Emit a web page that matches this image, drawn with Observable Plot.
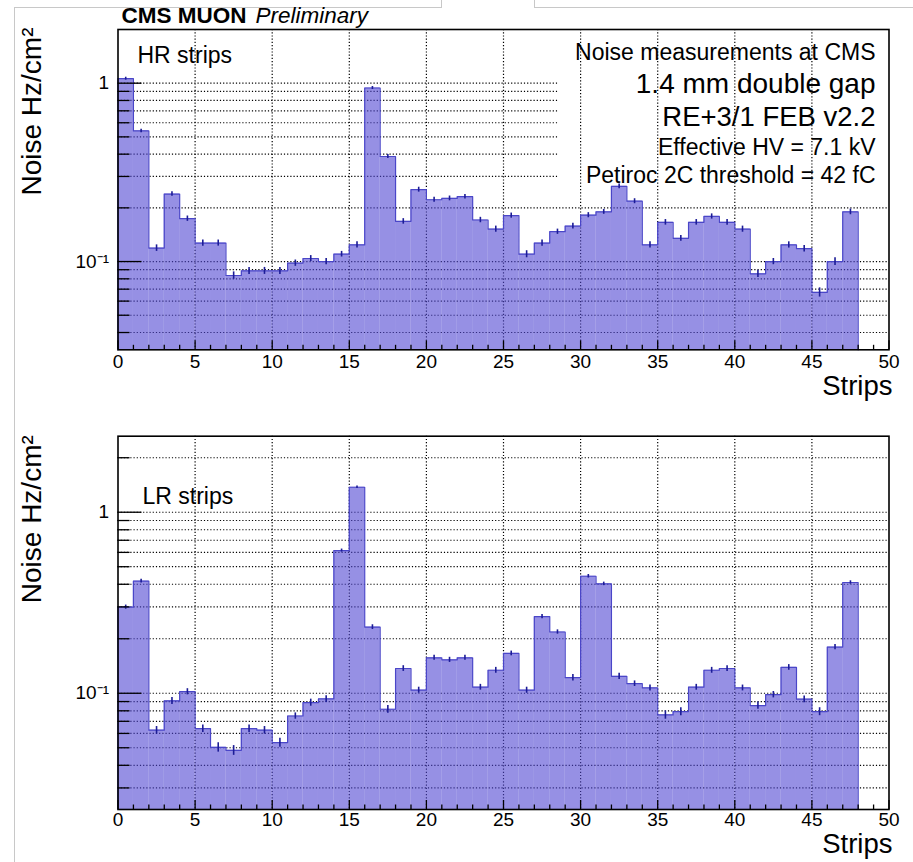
<!DOCTYPE html>
<html>
<head>
<meta charset="utf-8">
<script src="https://cdn.jsdelivr.net/npm/d3@7"></script>
<script src="https://cdn.jsdelivr.net/npm/@observablehq/plot@0.6"></script>
<style>
  body { margin: 0; background: #fff; }
  #page { position: relative; width: 913px; height: 862px; overflow: hidden; background: #fff;
          font-family: "Liberation Sans", Arial, Helvetica, sans-serif; }
  .panel { position: absolute; left: 0; }
  .edge { position: absolute; border-color: #c8c8c8; border-style: solid; border-width: 0; pointer-events: none; }
</style>
</head>
<body>
<div id="page">
  <div class="edge" style="left:14px;top:7px;width:427px;height:900px;border-top-width:1px;border-left-width:1px;"></div>
  <div class="edge" style="left:441px;top:-1px;width:0;height:8px;border-left-width:1px;"></div>
  <div class="edge" style="left:534px;top:-1px;width:400px;height:8px;border-left-width:1px;border-bottom-width:1px;"></div>
  <div id="top" class="panel" style="top:0"></div>
  <div id="bottom" class="panel" style="top:420px"></div>
</div>
<script>
// ---------------- data ----------------
const strips = d3.range(48);            // strip bins 0..47 (each bin is [s, s+1))
const hrNoise = [1.06, 0.54, 0.119, 0.239, 0.174, 0.127, 0.127, 0.0835, 0.0887, 0.0887,
                 0.0887, 0.098, 0.104, 0.100, 0.110, 0.124, 0.94, 0.388, 0.168, 0.253,
                 0.222, 0.226, 0.231, 0.171, 0.152, 0.181, 0.110, 0.127, 0.147, 0.158,
                 0.182, 0.190, 0.264, 0.218, 0.124, 0.166, 0.135, 0.166, 0.179, 0.166,
                 0.152, 0.0853, 0.100, 0.124, 0.118, 0.0672, 0.100, 0.190];
const hrErr = [0.02, 0.012, 0.005, 0.007, 0.006, 0.005, 0.005, 0.004, 0.004, 0.004,
               0.004, 0.004, 0.004, 0.004, 0.004, 0.005, 0.018, 0.010, 0.006, 0.008,
               0.007, 0.007, 0.007, 0.006, 0.006, 0.006, 0.005, 0.005, 0.005, 0.006,
               0.006, 0.006, 0.008, 0.007, 0.005, 0.006, 0.005, 0.006, 0.006, 0.006,
               0.006, 0.004, 0.004, 0.005, 0.005, 0.004, 0.005, 0.007];
const lrNoise = [0.299, 0.416, 0.0625, 0.0908, 0.102, 0.0638, 0.0503, 0.0484, 0.0638, 0.0625,
                 0.0534, 0.0749, 0.0888, 0.093, 0.614, 1.374, 0.232, 0.0816, 0.137, 0.104,
                 0.157, 0.153, 0.157, 0.108, 0.134, 0.166, 0.104, 0.265, 0.218, 0.122,
                 0.443, 0.402, 0.124, 0.113, 0.107, 0.0759, 0.0792, 0.108, 0.134, 0.137,
                 0.107, 0.0855, 0.0983, 0.139, 0.0927, 0.0792, 0.180, 0.409];
const lrErr = [0.008, 0.010, 0.003, 0.004, 0.004, 0.003, 0.003, 0.003, 0.003, 0.003,
               0.003, 0.003, 0.004, 0.004, 0.012, 0.020, 0.007, 0.004, 0.005, 0.004,
               0.005, 0.005, 0.005, 0.004, 0.005, 0.005, 0.004, 0.007, 0.006, 0.005,
               0.010, 0.009, 0.005, 0.004, 0.004, 0.004, 0.004, 0.004, 0.005, 0.005,
               0.004, 0.004, 0.004, 0.005, 0.004, 0.004, 0.006, 0.009];
const xMajorTicks = [0, 5, 10, 15, 20, 25, 30, 35, 40, 45, 50];
const xMinorTicks = d3.range(0, 51);
const yMajorTicks = [0.1, 1];
const yMinorTicks = [0.02, 0.03, 0.04, 0.05, 0.06, 0.07, 0.08, 0.09,
                     0.1, 0.2, 0.3, 0.4, 0.5, 0.6, 0.7, 0.8, 0.9, 1, 2, 3];
const yTickLabels = {0.1: "10\u207B\u00B9", 1: "1"};
const yTitle = "Noise Hz/cm\u00B2";
const xTitle = "Strips";
const headerBold = "CMS MUON";
const headerItalic = "Preliminary";
const hrLabel = "HR strips";
const lrLabel = "LR strips";
const notes = ["Noise measurements at CMS", "1.4 mm double gap", "RE+3/1 FEB v2.2",
               "Effective HV = 7.1 kV", "Petiroc 2C threshold = 42 fC"];

// ---------------- layout / style ----------------
const W = 913, ML = 117.5, MR = 24.5;
const FONT = '"Liberation Sans", Arial, Helvetica, sans-serif';
const FILL = "#5046d2", FILL_OPACITY = 0.6, LINE = "#4a46c8", ERR = "#1c1c96";

function drawPanel(cfg) {
  const [y0, y1] = cfg.yDomain;
  const frameW = W - ML - MR;
  const frameH = cfg.height - cfg.mt - cfg.mb;
  const bins = strips.map((s, i) => ({s, v: cfg.values[i], e: cfg.errors[i]}));
  const outline = [{x: strips[0], y: y0},
    ...bins.flatMap(b => [{x: b.s, y: b.v}, {x: b.s + 1, y: b.v}]),
    {x: strips[strips.length - 1] + 1, y: y0}];
  const grid = yMinorTicks.filter(v => v > y0 && v < y1 * 0.999);
  const dotted = {stroke: "#000", strokeWidth: 1.2, strokeDasharray: "1.2,2"};

  const marks = [Plot.ruleY(grid, {y: d => d, ...dotted})];
  if (cfg.noteBox) {
    marks.push(Plot.frame({fill: "white", stroke: "none",
      insetLeft: cfg.noteBox.left, insetBottom: frameH - cfg.noteBox.height}));
  }
  marks.push(
    Plot.ruleX(xMajorTicks.slice(1, -1), {x: d => d, ...dotted}),
    Plot.rect(bins, {x1: d => d.s, x2: d => d.s + 1, y1: () => y0, y2: d => d.v,
                     fill: FILL, fillOpacity: FILL_OPACITY}),
    Plot.line(outline, {x: "x", y: "y", stroke: LINE, strokeWidth: 1.2}),
    Plot.ruleX(bins, {x: d => d.s + 0.5, y1: d => d.v - d.e, y2: d => d.v + d.e,
                      stroke: ERR, strokeWidth: 1.6}),
    // inward ticks
    Plot.tickX(xMinorTicks.filter(d => d % 5 !== 0), {x: d => d, stroke: "#000", strokeWidth: 1.3, insetTop: frameH - 4.5}),
    Plot.tickX(xMajorTicks, {x: d => d, stroke: "#000", strokeWidth: 1.3, insetTop: frameH - 9}),
    Plot.tickY(grid.filter(d => !yMajorTicks.includes(d)), {y: d => d, stroke: "#000", strokeWidth: 1.3, insetRight: frameW - 12}),
    Plot.tickY(yMajorTicks, {y: d => d, stroke: "#000", strokeWidth: 1.3, insetRight: frameW - 24}),
    // tick labels
    Plot.text(xMajorTicks, {x: d => d, text: d => String(d), frameAnchor: "bottom",
                            lineAnchor: "top", dy: cfg.xTickPad, fontSize: 19, fill: "#000"}),
    Plot.text(yMajorTicks, {y: d => d, text: d => yTickLabels[d], frameAnchor: "left",
                            textAnchor: "end", lineAnchor: "middle", dx: -9, fontSize: 19, fill: "#000"}),
    // titles
    Plot.text([yTitle], {text: d => d, frameAnchor: "top-left", rotate: -90, textAnchor: "end",
                         lineAnchor: "middle", dx: 32 - ML, dy: cfg.yTitleDy, fontSize: 28}),
    Plot.text([xTitle], {text: d => d, frameAnchor: "bottom-right", textAnchor: "end",
                         lineAnchor: "bottom", dx: 3.5, dy: cfg.xTitleDy, fontSize: 27.5}),
    Plot.text([cfg.label], {text: d => d, frameAnchor: "top-left", textAnchor: "start",
                            lineAnchor: "bottom", dx: cfg.labelDx, dy: cfg.labelDy, fontSize: 23})
  );
  if (cfg.header) {
    marks.push(
      Plot.text([headerBold], {text: d => d, frameAnchor: "top-left", textAnchor: "start",
        lineAnchor: "bottom", dx: 3.5, dy: -7, fontSize: 22.5, fontWeight: "bold"}),
      Plot.text([headerItalic], {text: d => d, frameAnchor: "top-left", textAnchor: "start",
        lineAnchor: "bottom", dx: 137.5, dy: -7, fontSize: 22.5, fontStyle: "italic"})
    );
  }
  if (cfg.notes) {
    const sizes = [23, 28, 27.5, 23, 23];
    const baselines = [30, 63, 96, 125, 153];
    cfg.notes.forEach((t, i) => marks.push(
      Plot.text([t], {text: d => d, frameAnchor: "top-right", textAnchor: "end",
        lineAnchor: "bottom", dx: -13.5, dy: baselines[i], fontSize: sizes[i]})));
  }
  marks.push(Plot.frame({stroke: "#000", strokeWidth: 1.6}));

  return Plot.plot({
    width: W, height: cfg.height,
    marginLeft: ML, marginRight: MR, marginTop: cfg.mt, marginBottom: cfg.mb,
    style: {background: "transparent", fontFamily: FONT, fontSize: "19px", color: "#000", overflow: "visible"},
    x: {domain: [0, 50], axis: null},
    y: {type: "log", domain: [y0, y1], axis: null},
    marks
  });
}

document.getElementById("top").appendChild(drawPanel({
  values: hrNoise, errors: hrErr, yDomain: [0.032, 2.0],
  height: 420, mt: 29, mb: 70.7, xTickPad: 5,
  label: hrLabel, labelDx: 19.5, labelDy: 33,
  yTitleDy: -2, xTitleDy: 45,
  header: true, notes, noteBox: {left: 439.5, height: 152}
}));
document.getElementById("bottom").appendChild(drawPanel({
  values: lrNoise, errors: lrErr, yDomain: [0.0228, 2.63],
  height: 442, mt: 15.7, mb: 53, xTickPad: 3,
  label: lrLabel, labelDx: 24.5, labelDy: 67.6,
  yTitleDy: -1, xTitleDy: 43.5
}));
</script>
</body>
</html>
